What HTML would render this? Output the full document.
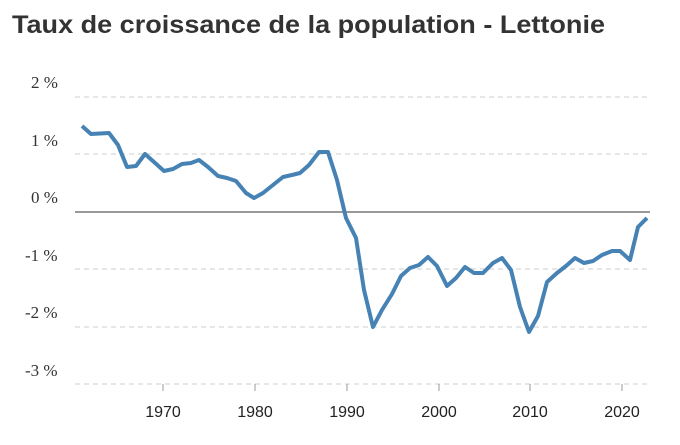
<!DOCTYPE html><html><head><style>body{margin:0;background:#fff}</style></head><body>
<svg width="680" height="440" xmlns="http://www.w3.org/2000/svg">
<text x="12" y="33" font-family="Liberation Sans, sans-serif" font-weight="bold" font-size="25" fill="#333" textLength="593" lengthAdjust="spacingAndGlyphs">Taux de croissance de la population - Lettonie</text>
<g stroke="#ccc" stroke-dasharray="5,4" stroke-width="1">
<line x1="75" x2="650" y1="97" y2="97"/><line x1="75" x2="650" y1="154" y2="154"/><line x1="75" x2="650" y1="269" y2="269"/><line x1="75" x2="650" y1="327" y2="327"/><line x1="75" x2="650" y1="384" y2="384"/>
</g>
<line x1="75" x2="650" y1="212" y2="212" stroke="#999" stroke-width="2"/>
<g font-family="Liberation Serif, serif" font-size="17" fill="#333">
<text x="31" y="88">2 %</text><text x="31" y="146">1 %</text><text x="31" y="203">0 %</text><text x="25" y="261">-1 %</text><text x="25" y="318">-2 %</text><text x="25" y="376">-3 %</text>
</g>
<g stroke="#999" stroke-width="1"><line x1="163" x2="163" y1="384" y2="391"/><line x1="255" x2="255" y1="384" y2="391"/><line x1="347" x2="347" y1="384" y2="391"/><line x1="439" x2="439" y1="384" y2="391"/><line x1="530" x2="530" y1="384" y2="391"/><line x1="622" x2="622" y1="384" y2="391"/></g>
<g font-family="Liberation Sans, sans-serif" font-size="16" fill="#222" text-anchor="middle">
<text x="163" y="417">1970</text><text x="255" y="417">1980</text><text x="347" y="417">1990</text><text x="439" y="417">2000</text><text x="530" y="417">2010</text><text x="622" y="417">2020</text>
</g>
<polyline fill="none" stroke="#4682b4" stroke-width="4" stroke-linejoin="round" points="82,126 91,134 109,133 118,145 127,167 136,166 145,154 154,162 164,171 173,169 182,164 191,163 199,160 208,167 218,176 227,178 236,181 246,193 254,198 263,193 273,185 283,177 292,175 300,173 309,165 319,152 328,152 337,180 346,218 356,238 364,290 373,327 382,310 392,294 401,276 410,268 419,265 428,257 437,266 447,286 456,278 465,267 474,273 483,273 493,263 502,258 511,270 520,307 529,332 538,316 547,282 557,273 566,266 575,258 584,263 593,261 602,255 612,251 620,251 630,260 638,227 647,218"/>
</svg></body></html>
